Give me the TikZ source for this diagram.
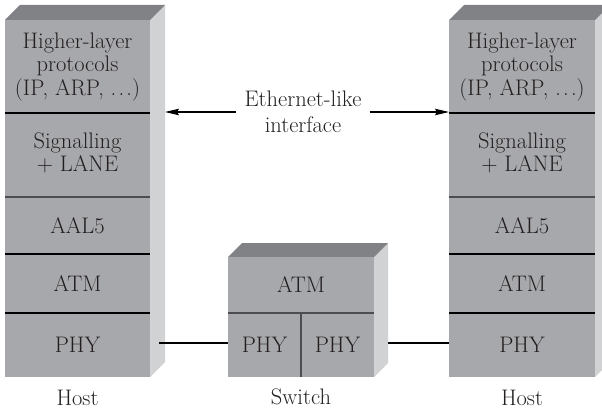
\documentclass[tikz,border=0pt]{standalone}
\usepackage{fontspec}
\setmainfont{Latin Modern Roman}
\usetikzlibrary{arrows.meta}
\definecolor{frontc}{HTML}{A7A8AB}
\definecolor{topc}{HTML}{808285}
\definecolor{sidec}{HTML}{D1D2D4}
\definecolor{txtc}{HTML}{231F20}
\definecolor{sepd}{HTML}{4D4D4F}
\newcommand\stackbox[5]{% left, top, right, bottom, depth
  \fill[sidec] (#3,#2) -- (#3+#5,#2-#5) -- (#3+#5,#4-#5) -- (#3,#4) -- cycle;
  \fill[topc] (#1,#2) -- (#1+#5,#2-#5) -- (#3+#5,#2-#5) -- (#3,#2) -- cycle;
  \fill[frontc] (#1,#2) rectangle (#3,#4);}
\newcommand\spdots{.\hspace{0.1em}.\hspace{0.1em}.}
\begin{document}
\begin{tikzpicture}[x=1pt,y=-1pt,
  every node/.style={text=txtc,font=\fontsize{22.5}{23.5}\selectfont,align=center,inner sep=0pt},
  sepline/.style={draw=black,line width=1.2pt},
  septhick/.style={draw=sepd,line width=2pt},
  link/.style={draw=black,line width=1.3pt},
  arr/.style={draw=black,line width=1.2pt,-{Stealth[length=14pt,width=6.5pt,inset=2pt]}}]
\useasboundingbox (0,0) rectangle (602,409);
\clip (0,0) rectangle (602,409);
% boxes
\stackbox{5}{20}{150}{377}{15}
\stackbox{449}{20}{595}{377}{15}
\stackbox{228}{257}{374}{377}{14}
% separators left host
\draw[sepline] (5,113) -- (150,113);
\draw[septhick] (5,196.5) -- (150,196.5);
\draw[sepline] (5,254) -- (150,254);
\draw[sepline] (5,313) -- (150,313);
% separators right host
\draw[sepline] (449,113) -- (595,113);
\draw[septhick] (449,196.5) -- (595,196.5);
\draw[sepline] (449,254) -- (595,254);
\draw[sepline] (449,313) -- (595,313);
% switch separators
\draw[draw=sepd,line width=1.6pt] (228,313) -- (374,313);
\draw[draw=sepd,line width=1.6pt] (301,313) -- (301,377);
% left host texts
\node (lhl) at (77.5,67) {Higher-layer\\protocols\\(IP, ARP, \spdots)};
\node (lsig) at (77.5,153) {Signalling\\+ LANE};
\node (laal) at (77.5,225.5) {AAL5};
\node (latm) at (77.5,283.5) {ATM};
\node (lphy) at (77.5,345) {PHY};
% right host texts
\node (rhl) at (522,67) {Higher-layer\\protocols\\(IP, ARP, \spdots)};
\node (rsig) at (522,153) {Signalling\\+ LANE};
\node (raal) at (522,225.5) {AAL5};
\node (ratm) at (522,283.5) {ATM};
\node (rphy) at (522,345) {PHY};
% switch texts
\node (satm) at (301,285) {ATM};
\node (sphyl) at (264.5,345) {PHY};
\node (sphyr) at (337.5,345) {PHY};
% labels
\node (lhost) at (77.5,398) {Host};
\node (switch) at (301,397) {Switch};
\node (rhost) at (522,398) {Host};
% ethernet-like interface
\node[inner xsep=8pt,font=\fontsize{22.5}{26}\selectfont] (eth) at (303,112) {Ethernet-like\\interface};
\coordinate (lside) at (165,112);
\coordinate (rfront) at (449,112);
\draw[arr] (eth.west) -- (lside);
\draw[arr] (eth.east) -- (rfront);
% physical links
\coordinate (lphyend) at (159,343);
\coordinate (sleft) at (228,343);
\coordinate (sright) at (388,343);
\coordinate (rphyend) at (449,343);
\draw[link] (lphyend) -- (sleft);
\draw[link] (sright) -- (rphyend);
\end{tikzpicture}
\end{document}
